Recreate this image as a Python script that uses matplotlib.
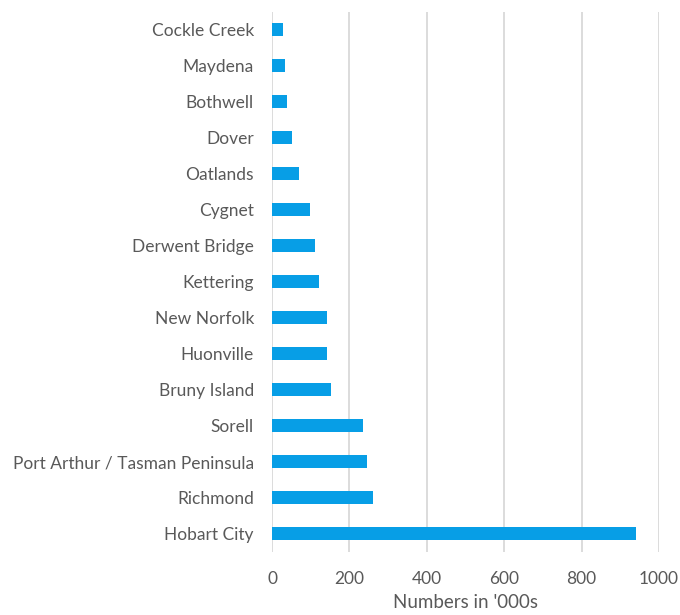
import matplotlib
matplotlib.use("Agg")
import matplotlib.pyplot as plt

plt.rcParams['font.family'] = ['Lato', 'DejaVu Sans']

# 数据（从下往上）
places = ['Hobart City', 'Richmond', 'Port Arthur / Tasman Peninsula', 'Sorell',
          'Bruny Island', 'Huonville', 'New Norfolk', 'Kettering', 'Derwent Bridge',
          'Cygnet', 'Oatlands', 'Dover', 'Bothwell', 'Maydena', 'Cockle Creek']
visitors = [940, 261, 246, 236, 152, 143, 141, 121, 111, 97, 69, 51, 38, 34, 28]
xticks = [0, 200, 400, 600, 800, 1000]

fig = plt.figure(figsize=(6.8, 6.15), dpi=100)
ax = fig.add_axes([0.4, 0.103, 0.569, 0.878])

ax.barh(range(len(places)), visitors, height=0.36, color='#079EE6', zorder=3)

ax.set_xlim(0, 1000)
ax.set_ylim(-0.5, len(places) - 0.5)
ax.set_xticks(xticks)
ax.set_yticks(range(len(places)))
ax.set_yticklabels(places)
ax.grid(axis='x', color='#d9d9d9', linewidth=1.3, zorder=0)
ax.grid(axis='y', visible=False)
for s in ax.spines.values():
    s.set_visible(False)
ax.tick_params(length=0, labelsize=12.5, colors='#595959')
ax.tick_params(axis='x', pad=14)
ax.tick_params(axis='y', pad=13)
ax.set_xlabel("Numbers in '000s", fontsize=13.5, color='#595959', labelpad=5)

plt.savefig('out.png')
